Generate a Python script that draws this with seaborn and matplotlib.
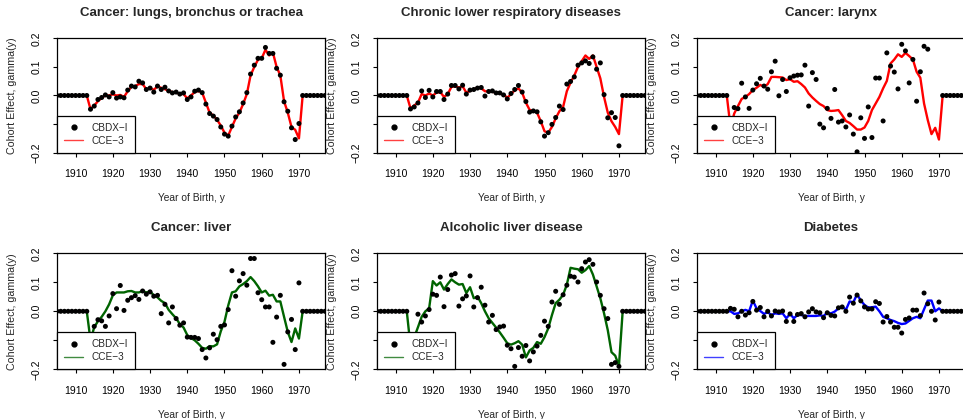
import matplotlib
matplotlib.use("Agg")
import matplotlib.pyplot as plt
from matplotlib.lines import Line2D
import seaborn as sns

# birth cohorts shown, 1905-1977; estimates only exist for 1914-1970
years = list(range(1905, 1978))
lead = [0.0] * 9   # 1905-1913
tail = [0.0] * 7   # 1971-1977

titles = ["Cancer: lungs, bronchus or trachea", "Chronic lower respiratory diseases",
          "Cancer: larynx", "Cancer: liver", "Alcoholic liver disease", "Diabetes"]
line_colors = ["#ff0000", "#ff0000", "#ff0000", "#006400", "#006400", "#0000ff"]

# values for 1914..1970
lung_cbdx = [-0.048, -0.037, -0.014, -0.007, 0.002, -0.005, 0.010, -0.009, -0.005, -0.008,
             0.019, 0.033, 0.030, 0.050, 0.044, 0.021, 0.026, 0.012, 0.033, 0.021,
             0.029, 0.016, 0.009, 0.012, 0.005, 0.009, -0.014, -0.005, 0.015, 0.019,
             0.010, -0.030, -0.063, -0.072, -0.084, -0.110, -0.135, -0.142, -0.107, -0.075,
             -0.057, -0.026, 0.010, 0.075, 0.106, 0.130, 0.130, 0.168, 0.147, 0.147,
             0.095, 0.071, -0.022, -0.055, -0.113, -0.154, -0.098]
lung_cce = [-0.048, -0.035, -0.020, -0.008, 0.000, 0.000, 0.004, 0.000, 0.002, -0.005,
            0.015, 0.030, 0.033, 0.040, 0.040, 0.022, 0.025, 0.020, 0.032, 0.027,
            0.022, 0.016, 0.012, 0.010, 0.006, 0.005, -0.010, 0.000, 0.012, 0.016,
            0.010, -0.025, -0.060, -0.070, -0.085, -0.105, -0.130, -0.140, -0.110, -0.080,
            -0.060, -0.030, 0.005, 0.070, 0.100, 0.125, 0.130, 0.160, 0.140, 0.150,
            0.100, 0.070, -0.020, -0.060, -0.110, -0.120, -0.150]

resp_cbdx = [-0.047, -0.040, -0.026, 0.016, -0.007, 0.018, -0.005, 0.014, 0.014, -0.014,
             0.005, 0.035, 0.035, 0.023, 0.036, 0.005, 0.019, 0.021, 0.026, 0.028,
             -0.002, 0.014, 0.016, 0.009, 0.009, 0.002, -0.012, 0.007, 0.021, 0.035,
             0.012, -0.021, -0.058, -0.054, -0.057, -0.092, -0.142, -0.130, -0.101, -0.077,
             -0.037, -0.049, 0.040, 0.049, 0.065, 0.106, 0.114, 0.121, 0.112, 0.135,
             0.092, 0.114, 0.003, -0.078, -0.060, -0.077, -0.176]
resp_cce = [-0.045, -0.035, -0.025, 0.005, 0.000, 0.007, 0.000, 0.010, 0.012, -0.005,
            0.005, 0.030, 0.032, 0.028, 0.032, 0.010, 0.016, 0.022, 0.027, 0.025,
            0.015, 0.014, 0.013, 0.010, 0.007, 0.004, -0.008, 0.005, 0.018, 0.025,
            0.010, -0.025, -0.050, -0.055, -0.060, -0.090, -0.125, -0.130, -0.110, -0.080,
            -0.055, -0.040, 0.015, 0.045, 0.070, 0.100, 0.120, 0.140, 0.128, 0.140,
            0.100, 0.060, -0.005, -0.060, -0.090, -0.110, -0.135]

larynx_cbdx = [-0.100, -0.042, -0.046, 0.043, -0.005, -0.045, 0.019, 0.041, 0.060, 0.033,
               0.022, 0.083, 0.120, -0.001, 0.056, 0.014, 0.062, 0.068, 0.071, 0.072,
               0.106, -0.037, 0.080, 0.056, -0.100, -0.113, -0.045, -0.080, 0.021, -0.093,
               -0.089, -0.110, -0.068, -0.135, -0.197, -0.078, -0.150, -0.040, -0.147, 0.061,
               0.061, -0.089, 0.149, 0.103, 0.082, 0.023, 0.179, 0.156, 0.044, 0.126,
               -0.020, 0.083, 0.172, 0.162, float("nan"), float("nan"), float("nan")]
larynx_cce = [-0.110, -0.063, -0.037, -0.012, -0.005, 0.005, 0.019, 0.027, 0.037, 0.030,
              0.040, 0.065, 0.065, 0.064, 0.063, 0.054, 0.057, 0.048, 0.050, 0.040,
              0.028, 0.007, -0.007, -0.019, -0.030, -0.037, -0.051, -0.054, -0.053, -0.051,
              -0.069, -0.089, -0.096, -0.107, -0.119, -0.119, -0.112, -0.089, -0.051, -0.028,
              -0.005, 0.025, 0.051, 0.112, 0.126, 0.144, 0.135, 0.149, 0.138, 0.126,
              0.083, 0.062, -0.028, -0.086, -0.135, -0.113, -0.154]

liver_cbdx = [-0.090, -0.052, -0.029, -0.033, -0.052, -0.016, 0.061, 0.009, 0.089, 0.003,
              0.038, 0.047, 0.054, 0.041, 0.070, 0.059, 0.067, 0.052, 0.055, -0.008,
              0.024, -0.040, 0.015, -0.025, -0.048, -0.040, -0.089, -0.090, -0.090, -0.094,
              -0.132, -0.161, -0.126, -0.079, -0.098, -0.052, -0.047, 0.006, 0.140, 0.052,
              0.105, 0.130, 0.090, 0.182, 0.182, 0.064, 0.040, 0.015, 0.015, -0.107,
              -0.020, 0.055, -0.183, -0.071, -0.028, -0.132, 0.098]
liver_cce = [-0.100, -0.055, -0.034, -0.019, 0.000, 0.024, 0.055, 0.065, 0.065, 0.065,
             0.069, 0.070, 0.065, 0.065, 0.070, 0.065, 0.069, 0.055, 0.048, 0.036,
             0.028, 0.005, -0.010, -0.024, -0.044, -0.056, -0.082, -0.092, -0.100, -0.112,
             -0.126, -0.129, -0.120, -0.121, -0.114, -0.069, -0.036, 0.020, 0.065, 0.069,
             0.086, 0.094, 0.104, 0.118, 0.104, 0.086, 0.065, 0.071, 0.054, 0.057,
             0.034, 0.034, -0.019, -0.071, -0.106, -0.059, -0.094]

alc_cbdx = [-0.120, -0.090, -0.010, -0.037, -0.016, 0.006, 0.059, 0.055, 0.118, 0.016,
            0.075, 0.125, 0.130, 0.018, 0.043, 0.053, 0.122, 0.015, 0.047, 0.083,
            0.021, -0.037, -0.014, -0.063, -0.054, -0.051, -0.117, -0.129, -0.190, -0.125,
            -0.155, -0.118, -0.171, -0.140, -0.120, -0.083, -0.034, -0.052, 0.032, 0.069,
            0.024, 0.057, 0.090, 0.121, 0.118, 0.101, 0.147, 0.170, 0.178, 0.162,
            0.101, 0.055, 0.009, -0.025, -0.183, -0.177, -0.190]
alc_cce = [-0.120, -0.090, -0.055, -0.019, 0.000, 0.010, 0.104, 0.089, 0.100, 0.075,
           0.094, 0.110, 0.100, 0.092, 0.094, 0.063, 0.083, 0.045, 0.051, 0.028,
           0.000, -0.024, -0.040, -0.056, -0.073, -0.091, -0.110, -0.115, -0.110, -0.103,
           -0.115, -0.159, -0.135, -0.126, -0.106, -0.112, -0.089, -0.059, -0.013, 0.028,
           0.040, 0.057, 0.092, 0.150, 0.147, 0.145, 0.133, 0.142, 0.156, 0.127,
           0.086, 0.045, -0.007, -0.065, -0.141, -0.153, -0.188]

diab_cbdx = [0.010, 0.007, -0.019, 0.000, -0.013, -0.005, 0.034, 0.004, 0.013, -0.019,
             0.000, -0.016, 0.001, -0.002, 0.001, -0.035, -0.009, -0.035, -0.011, -0.008,
             -0.019, -0.002, 0.009, -0.002, -0.005, -0.022, -0.005, -0.014, -0.016, 0.012,
             0.015, 0.000, 0.049, 0.028, 0.056, 0.036, 0.015, 0.008, 0.008, 0.033,
             0.027, -0.037, -0.018, -0.037, -0.055, -0.055, -0.075, -0.028, -0.023, 0.004,
             0.004, -0.015, 0.063, 0.026, 0.000, -0.030, 0.032]
diab_cce = [0.000, -0.009, -0.007, 0.000, 0.005, 0.000, 0.037, 0.010, 0.001, -0.009,
            -0.003, -0.013, -0.007, -0.009, -0.007, -0.024, -0.009, -0.024, -0.013, -0.013,
            -0.016, -0.016, -0.016, -0.016, -0.014, -0.016, -0.005, -0.007, -0.001, 0.010,
            0.016, 0.005, 0.034, 0.031, 0.059, 0.037, 0.022, 0.013, 0.014, 0.016,
            0.000, -0.019, -0.024, -0.030, -0.034, -0.040, -0.044, -0.042, -0.033, -0.024,
            -0.019, -0.024, 0.007, 0.037, 0.037, 0.000, 0.010]

cbdx_all = [lung_cbdx, resp_cbdx, larynx_cbdx, liver_cbdx, alc_cbdx, diab_cbdx]
cce_all = [lung_cce, resp_cce, larynx_cce, liver_cce, alc_cce, diab_cce]

sns.set_style("white")
plt.rcParams["font.family"] = ["Liberation Sans", "DejaVu Sans"]

W, H = 963, 419
fig = plt.figure(figsize=(W / 100, H / 100), dpi=100)

row_box = [(38.3, 152.7), (253.3, 369.3)]   # top/bottom of plot area, px
for i in range(6):
    r, c = divmod(i, 3)
    top, bot = row_box[r]
    left = 57 + 320 * c
    ax = fig.add_axes([left / W, 1 - bot / H, 268 / W, (bot - top) / H])

    sns.lineplot(x=years, y=lead + cce_all[i] + tail, ax=ax, color=line_colors[i],
                 linewidth=1.7, zorder=2)
    sns.scatterplot(x=years, y=lead + cbdx_all[i] + tail, ax=ax, color="black",
                    s=13, edgecolor="none", zorder=3, clip_on=True)

    ax.set_xlim(1905, 1977)
    ax.set_ylim(-0.2, 0.2)
    ax.set_xticks(range(1910, 1971, 10))
    ax.set_yticks([-0.2, -0.1, 0.0, 0.1, 0.2])
    ax.set_yticklabels(["\u22120.2", "", "0.0", "0.1", "0.2"], rotation=90, va="center")
    ax.tick_params(axis="both", direction="out", length=3, width=0.8, color="black",
                   labelsize=7.5, labelcolor="black", bottom=True, left=True)
    ax.tick_params(axis="x", pad=9)
    ax.tick_params(axis="y", pad=8)
    ax.set_xlabel("")
    ax.set_ylabel("")
    for sp in ax.spines.values():
        sp.set_color("black")
        sp.set_linewidth(0.9)

    handles = [Line2D([], [], marker="o", color="black", ls="none", markersize=3.5),
               Line2D([], [], color=line_colors[i], lw=1.0, alpha=0.75)]
    leg = ax.legend(handles, ["CBDX\u2212I", "CCE\u22123"], loc="lower left",
                    bbox_to_anchor=(0, 0), borderaxespad=0, fancybox=False,
                    framealpha=1, edgecolor="black", fontsize=7.2, handlelength=1.9,
                    handletextpad=0.8, borderpad=0.7, labelspacing=0.3)
    leg.get_frame().set_linewidth(0.9)
    leg.set_zorder(5)

    cx = (left + 134) / W
    fig.text(cx, 1 - (top - 25.6) / H, titles[i], ha="center", va="center",
             fontsize=9.5, fontweight="bold")
    fig.text(cx, 1 - (bot + 45.5) / H, "Year of Birth, y", ha="center", va="center",
             fontsize=7.4)
    fig.text((12.3 + 320 * c) / W, 1 - (top + bot) / 2 / H, "Cohort Effect, gamma(y)",
             rotation=90, ha="center", va="center", fontsize=7.7)

fig.savefig("out.png", dpi=100)
